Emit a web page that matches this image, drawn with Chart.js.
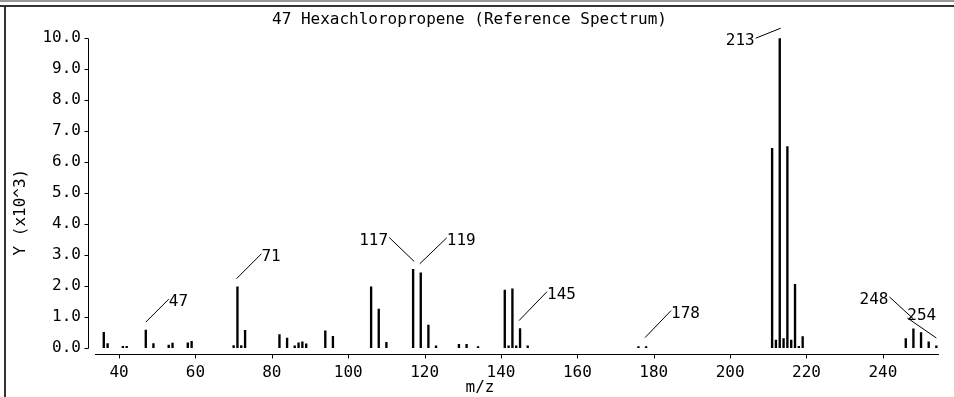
<!DOCTYPE html>
<html>
<head>
<meta charset="utf-8">
<script src="https://cdn.jsdelivr.net/npm/chart.js@4"></script>
<style>
  body { margin: 0; background: #fff; }
  #wrap { position: relative; width: 954px; height: 397px; }
  #frameTop { position: absolute; left: 0; top: 0; width: 954px; height: 2px; background: #999; }
  #frameTop2 { position: absolute; left: 0; top: 5px; width: 954px; height: 2px; background: #333; }
  #frameLeft { position: absolute; left: 4px; top: 5px; width: 2px; height: 392px; background: #333; }
</style>
</head>
<body>
<div id="wrap">
  <canvas id="spectrumChart" width="954" height="397"></canvas>
  <div id="frameTop"></div>
  <div id="frameTop2"></div>
  <div id="frameLeft"></div>
</div>
<script>
const massValues = [36, 37, 41, 42, 47, 49, 53, 54, 58, 59, 70, 71, 72, 73, 82, 84, 86, 87, 88, 89,
  94, 96, 106, 108, 110, 117, 119, 121, 123, 129, 131, 134, 141, 142, 143, 144, 145, 147,
  176, 178, 211, 212, 213, 214, 215, 216, 217, 218, 219, 246, 248, 250, 252, 254];
const abundance = [0.51, 0.15, 0.06, 0.06, 0.58, 0.15, 0.10, 0.16, 0.17, 0.22, 0.08, 1.98, 0.08, 0.57, 0.44, 0.32, 0.07, 0.17, 0.20, 0.14,
  0.56, 0.38, 1.98, 1.26, 0.19, 2.54, 2.43, 0.74, 0.07, 0.12, 0.12, 0.05, 1.87, 0.07, 1.91, 0.07, 0.63, 0.07,
  0.05, 0.05, 6.45, 0.26, 10.0, 0.31, 6.5, 0.26, 2.06, 0.06, 0.37, 0.31, 0.62, 0.50, 0.20, 0.07];
const xTicks = [40, 60, 80, 100, 120, 140, 160, 180, 200, 220, 240];
const yTicks = [0, 1, 2, 3, 4, 5, 6, 7, 8, 9, 10];
const peakLabels = ['47', '71', '117', '119', '145', '178', '213', '248', '254'];

// leader line: start offset, end offset from bar top, text side
const labelStyle = {
  '47': [0, -8, 23, -31, 'left'],
  '71': [-1, -8, 24, -33, 'left'],
  '117': [1, -8, -24, -32, 'right'],
  '119': [-1, -9, 26, -35, 'left'],
  '145': [-1, -8, 27, -37, 'left'],
  '178': [-1, -9, 25, -36, 'left'],
  '213': [1, -10, -24, 0, 'right'],
  '248': [0, -10, -24, -32, 'right'],
  '254': [0, -8, -29, -28, 'left']
};

const FONT = '16px "DejaVu Sans Mono", monospace';

const spectrumAxes = {
  id: 'spectrumAxes',
  afterDatasetsDraw(chart) {
    const ctx = chart.ctx;
    const xs = chart.scales.x;
    const ys = chart.scales.y;
    const area = chart.chartArea;
    ctx.save();
    ctx.strokeStyle = '#000';
    ctx.lineWidth = 1;

    // y axis
    const ax = Math.round(area.left - 7) + 0.5;
    ctx.beginPath();
    ctx.moveTo(ax, Math.round(ys.getPixelForValue(0)) + 0.5);
    ctx.lineTo(ax, Math.round(ys.getPixelForValue(10)) + 0.5);
    yTicks.forEach(v => {
      const py = Math.round(ys.getPixelForValue(v)) + 0.5;
      ctx.moveTo(ax - 4, py);
      ctx.lineTo(ax, py);
    });
    ctx.stroke();

    // x axis
    const ay = Math.round(area.bottom) + 0.5;
    ctx.beginPath();
    ctx.moveTo(area.left, ay);
    ctx.lineTo(area.right, ay);
    xTicks.forEach(v => {
      const px = Math.round(xs.getPixelForValue(v)) + 0.5;
      ctx.moveTo(px, ay);
      ctx.lineTo(px, ay + 4);
    });
    ctx.stroke();

    // peak labels
    ctx.font = FONT;
    ctx.fillStyle = '#000';
    ctx.textBaseline = 'middle';
    peakLabels.forEach(lbl => {
      const mz = Number(lbl);
      const i = massValues.indexOf(mz);
      const bx = xs.getPixelForValue(mz);
      const by = ys.getPixelForValue(abundance[i]);
      const s = labelStyle[lbl];
      ctx.beginPath();
      ctx.moveTo(bx + s[0], by + s[1]);
      ctx.lineTo(bx + s[2], by + s[3]);
      ctx.stroke();
      ctx.textAlign = s[4];
      const tx = bx + s[2] + (s[4] === 'left' ? 0 : -1);
      const ty = lbl === '254' ? by + s[3] - 2 : by + s[3] + 3;
      ctx.fillText(lbl, tx, ty);
    });

    // axis titles
    ctx.textAlign = 'center';
    ctx.fillText('m/z', (area.left + area.right) / 2 - 37, area.bottom + 34);
    ctx.translate(area.left - 74, (area.top + area.bottom) / 2 + 16);
    ctx.rotate(-Math.PI / 2);
    ctx.fillText('Y (x10^3)', 0, 0);
    ctx.restore();
  }
};

const ctx = document.getElementById('spectrumChart').getContext('2d');
const chart = new Chart(ctx, {
  type: 'bar',
  data: {
    datasets: [
      {
        label: 'Hexachloropropene',
        data: massValues.map((m, i) => ({ x: m, y: abundance[i] })),
        backgroundColor: '#000',
        borderWidth: 0,
        barThickness: 1.7
      }
    ]
  },
  options: {
    responsive: false,
    animation: false,
    layout: { padding: { left: 0, right: 15, top: 0, bottom: 0 } },
    plugins: {
      legend: { display: false },
      tooltip: { enabled: false },
      title: {
        display: true,
        text: '47 Hexachloropropene (Reference Spectrum)',
        color: '#000',
        font: { family: '"DejaVu Sans Mono", monospace', size: 16, weight: 'normal' },
        padding: { top: 10, bottom: 9 }
      }
    },
    scales: {
      x: {
        type: 'linear',
        min: 33.7,
        max: 254.7,
        offset: false,
        afterBuildTicks: scale => { scale.ticks = xTicks.map(v => ({ value: v })); },
        afterFit: scale => { scale.height = 43; },
        grid: { display: true, drawOnChartArea: false, drawTicks: true, tickLength: 0, color: 'transparent' },
        border: { display: false },
        ticks: {
          color: '#000',
          padding: 9,
          maxRotation: 0,
          autoSkip: false,
          font: { family: '"DejaVu Sans Mono", monospace', size: 16 }
        }
      },
      y: {
        min: -0.19,
        max: 10,
        afterBuildTicks: scale => { scale.ticks = yTicks.map(v => ({ value: v })); },
        afterFit: scale => { scale.width = 95; },
        grid: { display: true, drawOnChartArea: false, drawTicks: true, tickLength: 0, color: 'transparent' },
        border: { display: false },
        ticks: {
          color: '#000',
          padding: 14,
          autoSkip: false,
          callback: v => v.toFixed(1),
          font: { family: '"DejaVu Sans Mono", monospace', size: 16 }
        }
      }
    }
  },
  plugins: [spectrumAxes]
});
</script>
</body>
</html>
